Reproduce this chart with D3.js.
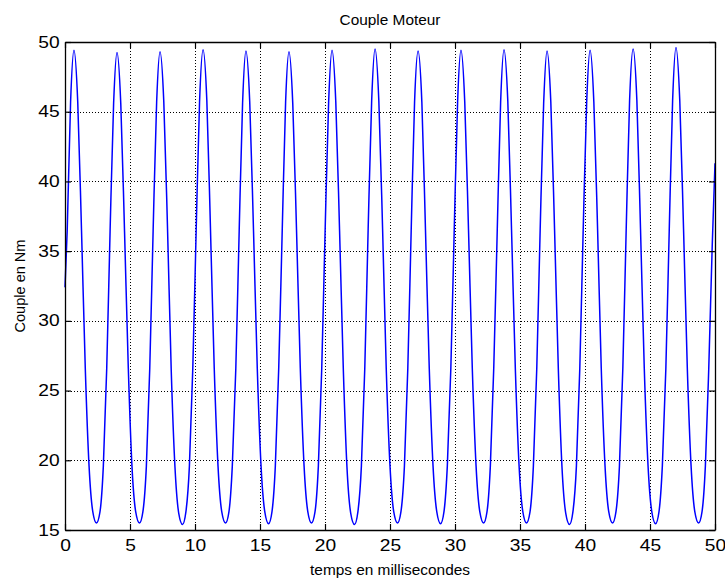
<!DOCTYPE html>
<html>
<head>
<meta charset="utf-8">
<script src="https://cdn.jsdelivr.net/npm/d3@7"></script>
<style>
  html, body { margin: 0; padding: 0; background: #fff; }
  svg { display: block; font-family: "Liberation Sans", Arial, Helvetica, sans-serif; }
</style>
</head>
<body>
<svg id="chart" width="725" height="578"></svg>
<script>
const titleText = "Couple Moteur";
const xLabel = "temps en millisecondes";
const yLabel = "Couple en Nm";
const xTicks = [0, 5, 10, 15, 20, 25, 30, 35, 40, 45, 50];
const yTicks = [15, 20, 25, 30, 35, 40, 45, 50];

// time (ms) samples
const times = [
  0, 0.17, 0.43,
  0.69, 0.98, 1.27, 1.56, 1.85, 2.14, 2.42, 2.69, 2.95, 3.21, 3.47, 3.74,
  4.00, 4.29, 4.58, 4.87, 5.15, 5.44, 5.73, 5.99, 6.26, 6.52, 6.78, 7.05,
  7.31, 7.60, 7.89, 8.17, 8.46, 8.75, 9.04, 9.30, 9.57, 9.83, 10.09, 10.35,
  10.62, 10.91, 11.19, 11.48, 11.77, 12.06, 12.35, 12.61, 12.87, 13.14, 13.40, 13.66,
  13.92, 14.21, 14.50, 14.79, 15.08, 15.37, 15.66, 15.92, 16.18, 16.44, 16.71, 16.97,
  17.23, 17.52, 17.81, 18.10, 18.39, 18.68, 18.96, 19.23, 19.49, 19.75, 20.01, 20.28,
  20.54, 20.83, 21.12, 21.41, 21.69, 21.98, 22.27, 22.53, 22.80, 23.06, 23.32, 23.59,
  23.85, 24.14, 24.43, 24.71, 25.00, 25.29, 25.58, 25.84, 26.11, 26.37, 26.63, 26.89,
  27.16, 27.45, 27.73, 28.02, 28.31, 28.60, 28.89, 29.15, 29.41, 29.68, 29.94, 30.20,
  30.46, 30.75, 31.04, 31.33, 31.62, 31.91, 32.20, 32.46, 32.72, 32.98, 33.25, 33.51,
  33.77, 34.06, 34.35, 34.64, 34.93, 35.22, 35.50, 35.77, 36.03, 36.29, 36.55, 36.82,
  37.08, 37.37, 37.66, 37.95, 38.23, 38.52, 38.81, 39.07, 39.34, 39.60, 39.86, 40.13,
  40.39, 40.68, 40.97, 41.25, 41.54, 41.83, 42.12, 42.38, 42.65, 42.91, 43.17, 43.43,
  43.70, 43.99, 44.27, 44.56, 44.85, 45.14, 45.43, 45.69, 45.95, 46.22, 46.48, 46.74,
  47.00, 47.29, 47.58, 47.87, 48.16, 48.45, 48.74, 49.00, 49.26, 49.52, 49.79, 50.00
];

// torque (Nm)
const torque = [
  32.4, 36.5, 45.7,
  49.4, 45.7, 36.5, 26.6, 19.6, 16.3, 15.5, 16.3, 19.6, 26.6, 36.5, 45.6,
  49.25, 45.6, 36.4, 26.6, 19.6, 16.3, 15.5, 16.3, 19.6, 26.6, 36.5, 45.7,
  49.3, 45.7, 36.5, 26.5, 19.5, 16.2, 15.4, 16.3, 19.6, 26.6, 36.5, 45.7,
  49.45, 45.8, 36.6, 26.6, 19.6, 16.3, 15.5, 16.3, 19.6, 26.6, 36.5, 45.6,
  49.35, 45.7, 36.5, 26.6, 19.6, 16.3, 15.45, 16.3, 19.6, 26.6, 36.5, 45.7,
  49.3, 45.6, 36.5, 26.6, 19.6, 16.3, 15.5, 16.3, 19.6, 26.6, 36.5, 45.7,
  49.4, 45.7, 36.5, 26.5, 19.5, 16.2, 15.4, 16.3, 19.6, 26.6, 36.6, 45.8,
  49.5, 45.8, 36.6, 26.6, 19.6, 16.3, 15.5, 16.3, 19.6, 26.6, 36.5, 45.7,
  49.35, 45.7, 36.5, 26.6, 19.6, 16.3, 15.45, 16.3, 19.6, 26.6, 36.5, 45.7,
  49.4, 45.7, 36.5, 26.6, 19.6, 16.3, 15.5, 16.3, 19.6, 26.6, 36.5, 45.7,
  49.45, 45.8, 36.5, 26.6, 19.6, 16.3, 15.5, 16.3, 19.6, 26.6, 36.5, 45.6,
  49.35, 45.7, 36.5, 26.5, 19.5, 16.2, 15.4, 16.3, 19.6, 26.6, 36.5, 45.7,
  49.4, 45.7, 36.5, 26.6, 19.6, 16.3, 15.5, 16.3, 19.6, 26.6, 36.6, 45.8,
  49.5, 45.8, 36.6, 26.6, 19.6, 16.3, 15.45, 16.3, 19.6, 26.6, 36.5, 45.8,
  49.6, 45.8, 36.6, 26.6, 19.6, 16.3, 15.5, 16.3, 19.6, 26.6, 35.5, 41.3
];

const W = 725, H = 578;
const margin = { left: 65, right: 10, top: 42, bottom: 48 };
const iw = W - margin.left - margin.right;
const ih = H - margin.top - margin.bottom;
const sxTick = 1.2;  // horizontal stretch of tick labels seen in the reference
const sxLab = 1.1;   // horizontal stretch of title / axis labels

const svg = d3.select("#chart");
const g = svg.append("g").attr("transform", `translate(${margin.left},${margin.top})`);

const x = d3.scaleLinear().domain([0, 50]).range([0, iw]);
const y = d3.scaleLinear().domain([15, 50]).range([ih, 0]);

// grid
const grid = g.append("g").attr("class", "grid");
grid.selectAll("line.vx").data(xTicks.filter(d => d > 0 && d < 50)).enter().append("line")
  .attr("x1", d => Math.round(x(d)) + 0.5).attr("x2", d => Math.round(x(d)) + 0.5)
  .attr("y1", 0).attr("y2", ih)
  .attr("stroke", "#000").attr("stroke-width", 1).attr("stroke-dasharray", "1,2");
grid.selectAll("line.hy").data(yTicks.filter(d => d > 15 && d < 50)).enter().append("line")
  .attr("y1", d => Math.round(y(d)) + 0.5).attr("y2", d => Math.round(y(d)) + 0.5)
  .attr("x1", 0).attr("x2", iw)
  .attr("stroke", "#000").attr("stroke-width", 1).attr("stroke-dasharray", "1,2");

// data line
const data = times.map((t, i) => ({ t, v: torque[i] }));
const line = d3.line().x(d => x(d.t)).y(d => y(d.v)).curve(d3.curveMonotoneX);
g.append("path").datum(data)
  .attr("fill", "none").attr("stroke", "#0000FF").attr("stroke-width", 1.5)
  .attr("stroke-linejoin", "round").attr("d", line);

// axes
function styleAxis(sel) {
  sel.select(".domain").attr("stroke", "#000").attr("stroke-width", 1.3);
  sel.selectAll(".tick line").attr("stroke", "#000").attr("stroke-width", 1.2);
  sel.selectAll(".tick text").attr("fill", "#000").style("font-size", "16px")
    .style("font-family", "'Liberation Sans', Arial, sans-serif");
}
const xb = g.append("g").attr("transform", `translate(0,${ih})`)
  .call(d3.axisBottom(x).tickValues(xTicks).tickSizeInner(-6).tickSizeOuter(0).tickPadding(10).tickFormat(d3.format("d")));
styleAxis(xb);
xb.selectAll(".tick text").attr("transform", `scale(${sxTick},1)`);

const yl = g.append("g")
  .call(d3.axisLeft(y).tickValues(yTicks).tickSizeInner(-6).tickSizeOuter(0).tickPadding(4.5).tickFormat(d3.format("d")));
styleAxis(yl);
yl.selectAll(".tick text").attr("transform", `scale(${sxTick},1)`);

const xt = g.append("g")
  .call(d3.axisTop(x).tickValues(xTicks).tickSizeInner(-6).tickSizeOuter(0).tickFormat(""));
styleAxis(xt);
const yr = g.append("g").attr("transform", `translate(${iw},0)`)
  .call(d3.axisRight(y).tickValues(yTicks).tickSizeInner(-6).tickSizeOuter(0).tickFormat(""));
styleAxis(yr);

// labels
svg.append("text").attr("transform", `translate(${margin.left + iw / 2},25) scale(${sxLab},1)`)
  .attr("text-anchor", "middle").style("font-size", "14px").attr("fill", "#000").text(titleText);
svg.append("text").attr("transform", `translate(${margin.left + iw / 2},575) scale(${sxLab},1)`)
  .attr("text-anchor", "middle").style("font-size", "14px").attr("fill", "#000").text(xLabel);
svg.append("text").attr("transform", `translate(25,${margin.top + ih / 2}) rotate(-90) scale(1.04,${sxLab})`)
  .attr("text-anchor", "middle").style("font-size", "14px").attr("fill", "#000").text(yLabel);
</script>
</body>
</html>
